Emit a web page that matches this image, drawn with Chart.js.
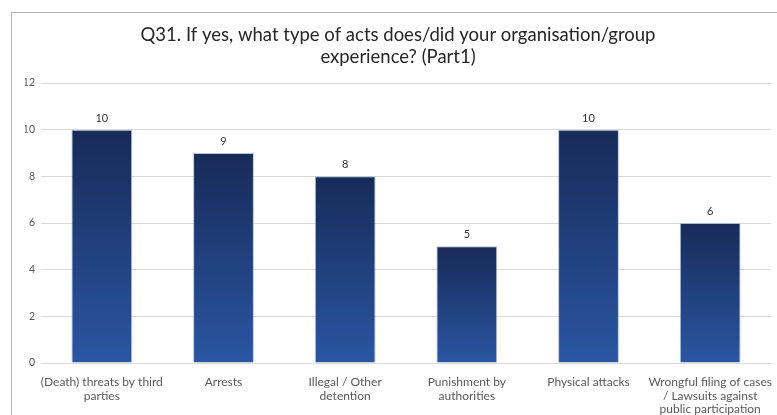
<!DOCTYPE html>
<html>
<head>
<meta charset="utf-8">
<script src="https://cdn.jsdelivr.net/npm/chart.js@4/dist/chart.umd.min.js"></script>
<style>
    html, body { margin: 0; padding: 0; background: #fff; }
    #wrap { position: relative; width: 777px; height: 415px; overflow: hidden; }
    #frame {
        position: absolute; left: 11px; top: 12px; width: 800px; height: 430px;
        border: 1px solid #b4b4b4; box-sizing: border-box; pointer-events: none;
    }
    canvas { position: absolute; left: 0; top: 0; }
</style>
</head>
<body>
<div id="wrap">
    <div id="frame"></div>
    <canvas id="actsChart" width="777" height="415"></canvas>
</div>
<script>
const categories = [
    ["(Death) threats by third", "parties"],
    ["Arrests"],
    ["Illegal / Other", "detention"],
    ["Punishment by", "authorities"],
    ["Physical attacks"],
    ["Wrongful filing of cases", "/ Lawsuits against", "public participation"]
];
const counts = [10, 9, 8, 5, 10, 6];
const yTicks = [0, 2, 4, 6, 8, 10, 12];

const FONT = "Lato, 'Open Sans', sans-serif";

// each bar gets its own dark-top to blue-bottom gradient
function barGradient(ctx) {
    const chart = ctx.chart;
    const { chartArea } = chart;
    if (!chartArea || ctx.parsed == null) return "#24478a";
    const y = chart.scales.y;
    const top = y.getPixelForValue(ctx.parsed.y);
    const base = y.getPixelForValue(0);
    const g = chart.ctx.createLinearGradient(0, top, 0, base);
    g.addColorStop(0, "#172b58");
    g.addColorStop(1, "#2b56a3");
    return g;
}

// value labels above the bars
const valueLabels = {
    id: "valueLabels",
    afterDatasetsDraw(chart) {
        const c = chart.ctx;
        const meta = chart.getDatasetMeta(0);
        c.save();
        c.font = "11px " + FONT;
        c.fillStyle = "#333333";
        c.textAlign = "center";
        c.textBaseline = "bottom";
        meta.data.forEach((bar, i) => {
            c.fillText(counts[i], bar.x, bar.y - 6);
        });
        c.restore();
    }
};

new Chart(document.getElementById("actsChart"), {
    type: "bar",
    data: {
        labels: categories,
        datasets: [{
            data: counts,
            backgroundColor: barGradient,
            borderColor: "rgba(150,170,205,0.7)",
            borderWidth: 1,
            categoryPercentage: 0.5,
            barPercentage: 1
        }]
    },
    options: {
        responsive: false,
        animation: false,
        layout: { padding: { left: 25, right: 6, top: 0, bottom: 0 } },
        plugins: {
            legend: { display: false },
            tooltip: { enabled: false },
            title: {
                display: true,
                text: ["Q31. If yes, what type of acts does/did your organisation/group", "experience? (Part1)"],
                color: "#262626",
                font: { family: FONT, size: 18.5, weight: "normal", lineHeight: 1.2 },
                padding: { top: 24, bottom: 14.6 }
            }
        },
        scales: {
            y: {
                min: 0,
                max: 12,
                afterFit: s => { s.width = 16; },
                afterBuildTicks: s => { s.ticks = yTicks.map(v => ({ value: v })); },
                ticks: { color: "#595959", padding: 6, font: { family: FONT, size: 10.5 } },
                grid: { color: "#d9d9d9", drawTicks: false },
                border: { display: false }
            },
            x: {
                afterFit: s => { s.height = 52; },
                ticks: { color: "#595959", padding: 4, maxRotation: 0, autoSkip: false, font: { family: FONT, size: 12, lineHeight: 1.15 } },
                grid: { display: false },
                border: { color: "#d9d9d9" }
            }
        }
    },
    plugins: [valueLabels]
});
</script>
</body>
</html>
